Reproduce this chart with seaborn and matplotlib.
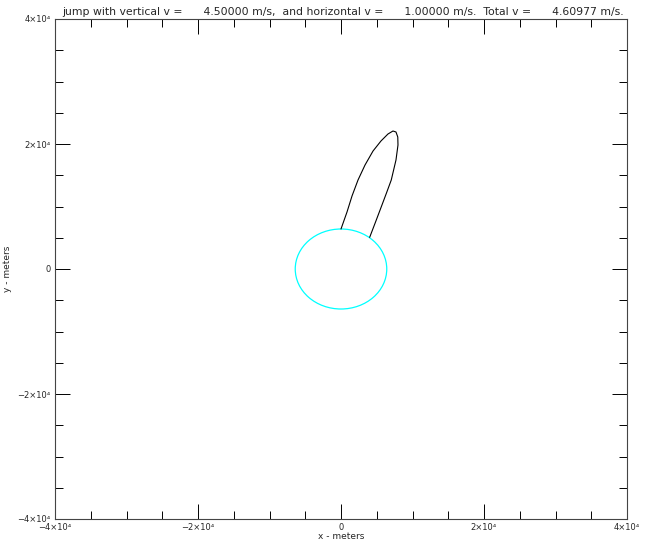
import matplotlib
matplotlib.use("Agg")
import matplotlib.pyplot as plt
from matplotlib.patches import Circle
from matplotlib.ticker import MultipleLocator
import pandas as pd
import seaborn as sns

# ----------------------------
# Data
# ----------------------------
v_vert = 4.5
v_horiz = 1.0
v_total = 4.60977
radius = 6400.0

traj_x = [0, 840, 1540, 2380, 3360, 4480, 5590, 6570, 7270, 7690,
          7940, 7970, 7690, 7030, 6360, 5640, 4830, 4010]
traj_y = [6400, 9120, 11680, 14240, 16640, 18880, 20480, 21600, 22080, 21920,
          21120, 19840, 17440, 14240, 12160, 9970, 7520, 5070]

tick_vals = [-40000, -20000, 0, 20000, 40000]
tick_labels = ["\u22124\u00d710\u2074", "\u22122\u00d710\u2074", "0",
               "2\u00d710\u2074", "4\u00d710\u2074"]

# ----------------------------
# Figure
# ----------------------------
sns.set_style("white")
plt.rcParams["font.family"] = ["DejaVu Sans"]

fig = plt.figure(figsize=(6.47, 5.43), dpi=100)
ax = fig.add_axes([55 / 647, 24 / 543, 572 / 647, 500 / 543])

df = pd.DataFrame({"x": traj_x, "y": traj_y})
# estimator=None so points sharing an x value are not averaged together
sns.lineplot(data=df, x="x", y="y", sort=False, estimator=None,
             color="black", linewidth=0.8, ax=ax)

ax.add_patch(Circle((0, 0), radius, fill=False, edgecolor="#00ffff",
                    linewidth=0.9))

ax.set_xlim(-40000, 40000)
ax.set_ylim(-40000, 40000)

ax.set_xticks(tick_vals)
ax.set_xticklabels(tick_labels)
ax.set_yticks(tick_vals)
ax.set_yticklabels(tick_labels)
ax.xaxis.set_minor_locator(MultipleLocator(5000))
ax.yaxis.set_minor_locator(MultipleLocator(5000))

ax.tick_params(which="both", direction="in", top=True, right=True,
               bottom=True, left=True, color="black", width=0.7,
               labelsize=6, pad=3)
ax.tick_params(which="major", length=11)
ax.tick_params(which="minor", length=6)

for s in ax.spines.values():
    s.set_color("#444444")
    s.set_linewidth(0.8)

ax.set_xlabel("x - meters", fontsize=6.5, labelpad=0)
ax.set_ylabel("y - meters", fontsize=6.5, labelpad=4)

title = ("jump with vertical v =      %.5f m/s,  and horizontal v =      %.5f m/s."
         "  Total v =      %.5f m/s." % (v_vert, v_horiz, v_total))
fig.text(62 / 647, 1 - 12 / 543, title, fontsize=7.8, va="center", ha="left")

fig.savefig("out.png", dpi=100)
